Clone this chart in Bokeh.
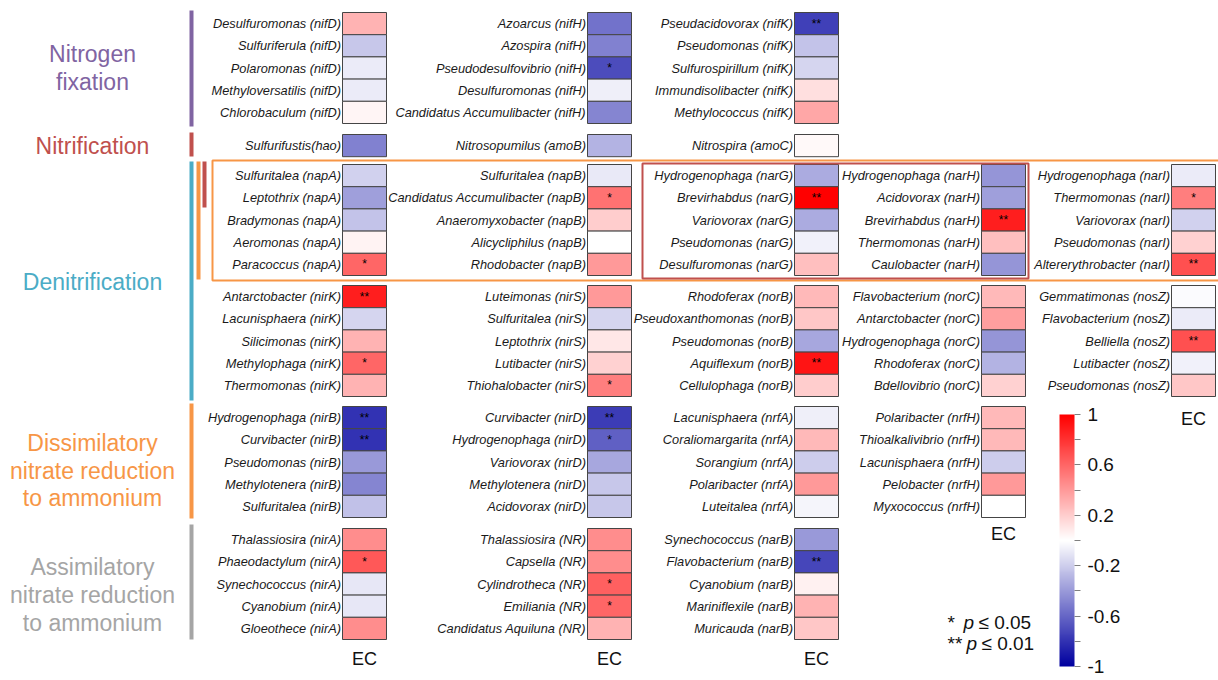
import numpy as np
from bokeh.plotting import figure
from bokeh.models import (Range1d, ColumnDataSource, LinearColorMapper, ColorBar,
                          FixedTicker, NumeralTickFormatter)
from bokeh.transform import linear_cmap
from bokeh.core.properties import value
from bokeh.embed import file_html
from bokeh.resources import INLINE

# ---------------- data ----------------
gene = (["nifD"] * 5 + ["nifH"] * 5 + ["nifK"] * 5 + ["hao", "amoB", "amoC"]
        + ["napA"] * 5 + ["napB"] * 5 + ["narG"] * 5 + ["narH"] * 5 + ["narI"] * 5
        + ["nirK"] * 5 + ["nirS"] * 5 + ["norB"] * 5 + ["norC"] * 5 + ["nosZ"] * 5
        + ["nirB"] * 5 + ["nirD"] * 5 + ["nrfA"] * 5 + ["nrfH"] * 5
        + ["nirA"] * 5 + ["NR"] * 5 + ["narB"] * 5)

taxon = [
    "Desulfuromonas", "Sulfuriferula", "Polaromonas", "Methyloversatilis", "Chlorobaculum",
    "Azoarcus", "Azospira", "Pseudodesulfovibrio", "Desulfuromonas", "Candidatus Accumulibacter",
    "Pseudacidovorax", "Pseudomonas", "Sulfurospirillum", "Immundisolibacter", "Methylococcus",
    "Sulfurifustis", "Nitrosopumilus", "Nitrospira",
    "Sulfuritalea", "Leptothrix", "Bradymonas", "Aeromonas", "Paracoccus",
    "Sulfuritalea", "Candidatus Accumulibacter", "Anaeromyxobacter", "Alicycliphilus", "Rhodobacter",
    "Hydrogenophaga", "Brevirhabdus", "Variovorax", "Pseudomonas", "Desulfuromonas",
    "Hydrogenophaga", "Acidovorax", "Brevirhabdus", "Thermomonas", "Caulobacter",
    "Hydrogenophaga", "Thermomonas", "Variovorax", "Pseudomonas", "Altererythrobacter",
    "Antarctobacter", "Lacunisphaera", "Silicimonas", "Methylophaga", "Thermomonas",
    "Luteimonas", "Sulfuritalea", "Leptothrix", "Lutibacter", "Thiohalobacter",
    "Rhodoferax", "Pseudoxanthomonas", "Pseudomonas", "Aquiflexum", "Cellulophaga",
    "Flavobacterium", "Antarctobacter", "Hydrogenophaga", "Rhodoferax", "Bdellovibrio",
    "Gemmatimonas", "Flavobacterium", "Belliella", "Lutibacter", "Pseudomonas",
    "Hydrogenophaga", "Curvibacter", "Pseudomonas", "Methylotenera", "Sulfuritalea",
    "Curvibacter", "Hydrogenophaga", "Variovorax", "Methylotenera", "Acidovorax",
    "Lacunisphaera", "Coraliomargarita", "Sorangium", "Polaribacter", "Luteitalea",
    "Polaribacter", "Thioalkalivibrio", "Lacunisphaera", "Pelobacter", "Myxococcus",
    "Thalassiosira", "Phaeodactylum", "Synechococcus", "Cyanobium", "Gloeothece",
    "Thalassiosira", "Capsella", "Cylindrotheca", "Emiliania", "Candidatus Aquiluna",
    "Synechococcus", "Flavobacterium", "Cyanobium", "Mariniflexile", "Muricauda",
]

ec = [
    0.30, -0.22, -0.08, -0.08, 0.04,
    -0.55, -0.50, -0.70, -0.07, -0.48,
    -0.75, -0.24, -0.17, 0.13, 0.35,
    -0.50, -0.30, 0.03,
    -0.18, -0.38, -0.24, 0.05, 0.60,
    -0.09, 0.55, 0.20, 0.00, 0.40,
    -0.33, 1.00, -0.33, -0.06, 0.25,
    -0.42, -0.38, 0.88, 0.25, -0.42,
    -0.08, 0.50, -0.18, 0.18, 0.68,
    0.88, -0.17, 0.30, 0.60, 0.30,
    0.40, -0.17, 0.10, 0.18, 0.50,
    0.28, 0.22, -0.35, 0.92, 0.20,
    0.28, 0.38, -0.42, -0.30, 0.18,
    -0.02, -0.08, 0.68, -0.06, 0.22,
    -0.80, -0.80, -0.40, -0.48, -0.25,
    -0.76, -0.62, -0.35, -0.22, -0.22,
    -0.07, 0.28, -0.20, 0.40, -0.04,
    0.28, 0.28, -0.20, 0.40, 0.00,
    0.45, 0.65, -0.10, -0.10, 0.45,
    0.45, 0.45, 0.62, 0.60, 0.30,
    -0.40, -0.72, 0.06, 0.30, 0.22,
]

sig = [
    "", "", "", "", "",
    "", "", "*", "", "",
    "**", "", "", "", "",
    "", "", "",
    "", "", "", "", "*",
    "", "*", "", "", "",
    "", "**", "", "", "",
    "", "", "**", "", "",
    "", "*", "", "", "**",
    "**", "", "", "*", "",
    "", "", "", "", "*",
    "", "", "", "**", "",
    "", "", "", "", "",
    "", "", "**", "", "",
    "**", "**", "", "", "",
    "**", "*", "", "", "",
    "", "", "", "", "",
    "", "", "", "", "",
    "", "*", "", "", "",
    "", "", "*", "*", "",
    "", "**", "", "", "",
]

process_lines = [["Nitrogen", "fixation"], ["Nitrification"], ["Denitrification"],
                 ["Dissimilatory", "nitrate reduction", "to ammonium"],
                 ["Assimilatory", "nitrate reduction", "to ammonium"]]
process_colors = ["#8064A2", "#C0504D", "#4BACC6", "#F79646", "#A5A5A5"]

cbar_ticks = [-1, -0.6, -0.2, 0.2, 0.6, 1]
cbar_minor = [-0.8, -0.4, 0, 0.4, 0.8]

# ---------------- layout ----------------
gene_slot = {"nifD": (0, 0), "nifH": (1, 0), "nifK": (2, 0),
             "hao": (0, 1), "amoB": (1, 1), "amoC": (2, 1),
             "napA": (0, 2), "napB": (1, 2), "narG": (2, 2), "narH": (3, 2), "narI": (4, 2),
             "nirK": (0, 3), "nirS": (1, 3), "norB": (2, 3), "norC": (3, 3), "nosZ": (4, 3),
             "nirB": (0, 4), "nirD": (1, 4), "nrfA": (2, 4), "nrfH": (3, 4),
             "nirA": (0, 5), "NR": (1, 5), "narB": (2, 5)}
COL_LEFT = [342, 587, 794, 981, 1171]
CELL_W = 44
ROW_H = 22.2
BLOCK_TOP = [12, 134, 164, 285, 406, 528]
EC_Y = [658, 658, 658, 533, 418]
W, H = 1218, 680

FONT_NAME = "Liberation Sans"
FONT = value(FONT_NAME)

seen = {}
xs, ys, lx = [], [], []
for g in gene:
    c, b = gene_slot[g]
    r = seen.get(g, 0)
    seen[g] = r + 1
    xs.append(COL_LEFT[c] + CELL_W / 2)
    ys.append(BLOCK_TOP[b] + (r + 0.5) * ROW_H)
    lx.append(COL_LEFT[c] - 1.5)
labels = [f"{t}({g})" if t == "Sulfurifustis" else f"{t} ({g})" for t, g in zip(taxon, gene)]


def hexc(rgb):
    return "#%02x%02x%02x" % tuple(int(round(v)) for v in rgb)


lo = np.array([0, 0, 160.0])
mid = np.array([255, 255, 255.0])
hi = np.array([255, 0, 0.0])
pal = [hexc(lo + (mid - lo) * t) for t in np.linspace(0, 1, 128)] + \
      [hexc(mid + (hi - mid) * t) for t in np.linspace(0, 1, 128)]

p = figure(width=W, height=H, x_range=Range1d(0, W), y_range=Range1d(H, 0),
           output_backend="svg", toolbar_location=None, min_border=0,
           x_axis_location=None, y_axis_location=None, outline_line_color=None)
p.xgrid.visible = False
p.ygrid.visible = False

src = ColumnDataSource(dict(x=xs, y=ys, v=ec, sig=sig, label=labels, lx=lx))
p.rect("x", "y", width=CELL_W, height=ROW_H, source=src,
       fill_color=linear_cmap("v", pal, -1, 1), line_color="#454545", line_width=1)
p.text("lx", "y", text="label", source=src, text_align="right", text_baseline="middle",
       text_font=FONT, text_font_style="italic", text_font_size="12.8px", text_color="#1a1a1a")
p.text("x", "y", text="sig", source=src, text_align="center", text_baseline="middle",
       text_font=FONT, text_font_size="12px", text_color="#000000")

# EC labels
p.text([COL_LEFT[i] + CELL_W / 2 for i in range(5)], EC_Y, text=["EC"] * 5,
       text_align="center", text_baseline="middle", text_font=FONT, text_font_size="18px",
       text_color="#111111")

# process labels
PROC_Y = [[53, 81], [145], [281], [442, 470, 497], [566, 594, 622]]
tx, ty, tt, tc = [], [], [], []
for lines, ysl, col in zip(process_lines, PROC_Y, process_colors):
    for ln, yy in zip(lines, ysl):
        tx.append(92); ty.append(yy); tt.append(ln); tc.append(col)
p.text(tx, ty, text=tt, text_color=tc, text_align="center", text_baseline="middle",
       text_font=FONT, text_font_size="23px")

# side bars
BAR = [(191, 10, 126), (191, 132, 156), (191, 161, 400), (191, 403, 518), (191, 524, 639)]
p.segment([b[0] for b in BAR], [b[1] for b in BAR], [b[0] for b in BAR], [b[2] for b in BAR],
          line_color=process_colors, line_width=4)
p.segment([198, 204], [161, 161], [198, 204], [279, 207],
          line_color=[process_colors[3], process_colors[1]], line_width=4)

# highlight boxes
p.quad(left=[212], right=[1240], top=[160], bottom=[280], fill_color=None,
       line_color=process_colors[3], line_width=2)
p.quad(left=[642], right=[1028], top=[163], bottom=[278], fill_color=None,
       line_color=process_colors[1], line_width=2)

# significance legend
p.text([947, 947], [622, 643], text=["*", "**"], text_align="left", text_baseline="middle",
       text_font=FONT, text_font_size="19px", text_color="#111111")
p.text([963, 966], [622, 643], text=["p", "p"], text_align="left", text_baseline="middle",
       text_font=FONT, text_font_style="italic", text_font_size="19px", text_color="#111111")
p.text([978, 981], [622, 643], text=["\u2264 0.05", "\u2264 0.01"], text_align="left",
       text_baseline="middle", text_font=FONT, text_font_size="19px", text_color="#111111")

# colour bar
mapper = LinearColorMapper(palette=pal, low=-1, high=1)
cb = ColorBar(color_mapper=mapper, orientation="vertical", width=15, height=252,
              location=(1059, H - 666), padding=0, margin=0,
              ticker=FixedTicker(ticks=cbar_ticks, minor_ticks=cbar_minor),
              formatter=NumeralTickFormatter(format="0.[0]"),
              major_tick_in=0, major_tick_out=6, minor_tick_in=0, minor_tick_out=6,
              major_tick_line_color="#808080", minor_tick_line_color="#808080",
              bar_line_color=None, border_line_color=None, background_fill_color=None,
              label_standoff=7, major_label_text_font=FONT_NAME,
              major_label_text_font_size="19px", major_label_text_color="#111111")
p.add_layout(cb)

open("out.html", "w").write(file_html(p, INLINE))
